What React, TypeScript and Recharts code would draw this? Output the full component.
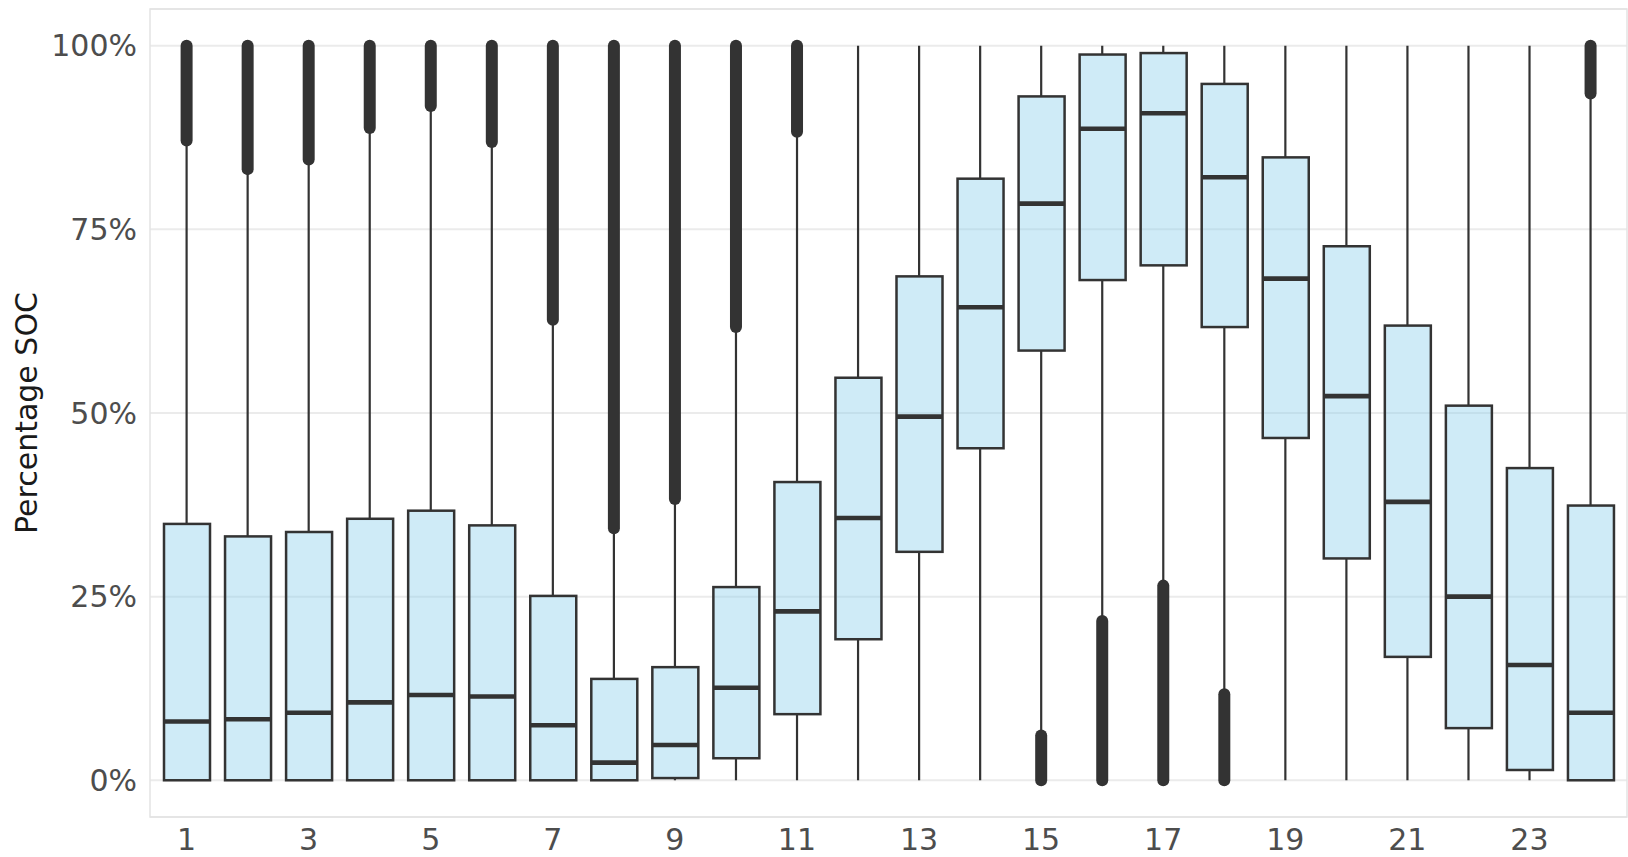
import React from 'react';
import { ComposedChart, Bar, XAxis, YAxis, CartesianGrid, usePlotArea } from 'recharts';

// hour of day, 1..24
const hours = ['1', '2', '3', '4', '5', '6', '7', '8', '9', '10', '11', '12', '13', '14', '15', '16', '17', '18', '19', '20', '21', '22', '23', '24'];

// box stats (share of SOC, 0..1)
const q1 = [0, 0, 0, 0, 0, 0, 0, 0, 0.003, 0.030, 0.090, 0.192, 0.311, 0.452, 0.585, 0.681, 0.701, 0.617, 0.466, 0.302, 0.168, 0.071, 0.014, 0];
const median = [0.080, 0.083, 0.092, 0.106, 0.116, 0.114, 0.075, 0.024, 0.048, 0.126, 0.230, 0.357, 0.495, 0.644, 0.785, 0.887, 0.908, 0.821, 0.683, 0.523, 0.379, 0.250, 0.157, 0.092];
const q3 = [0.349, 0.332, 0.338, 0.356, 0.367, 0.347, 0.251, 0.138, 0.154, 0.263, 0.406, 0.548, 0.686, 0.819, 0.931, 0.988, 0.990, 0.948, 0.848, 0.727, 0.619, 0.510, 0.425, 0.374];
const whiskerLow = [0, 0, 0, 0, 0, 0, 0, 0, 0, 0, 0, 0, 0, 0, 0.061, 0.217, 0.265, 0.117, 0, 0, 0, 0, 0, 0];
const whiskerHigh = [0.871, 0.832, 0.845, 0.888, 0.918, 0.869, 0.627, 0.343, 0.383, 0.617, 0.883, 1, 1, 1, 1, 1, 1, 1, 1, 1, 1, 1, 1, 0.935];

// outliers are so dense they merge into one bar: [from, to], null = none
const outlierLow = [0.871, 0.832, 0.845, 0.888, 0.918, 0.869, 0.627, 0.343, 0.383, 0.617, 0.883, null, null, null, 0, 0, 0, 0, null, null, null, null, null, 0.935];
const outlierHigh = [1, 1, 1, 1, 1, 1, 1, 1, 1, 1, 1, null, null, null, 0.061, 0.217, 0.265, 0.117, null, null, null, null, null, 1];

const yTicks = [0, 0.25, 0.5, 0.75, 1];

const data = hours.map((h, i) => ({
  hour: h,
  whisker: [whiskerLow[i], whiskerHigh[i]],
  box: [q1[i], q3[i]],
  med: median[i],
  out: outlierLow[i] == null ? null : [outlierLow[i], outlierHigh[i]],
}));

const INK = '#333333';
const FONT = 'DejaVu Sans, Verdana, sans-serif';

// whisker bar spans [low, high]; only draw the parts outside the box
const WhiskerShape = (props: any) => {
  const { x, y, width, height, payload } = props;
  if (y == null || isNaN(y)) return null;
  const [lo, hi] = payload.whisker;
  const [b1, b3] = payload.box;
  const toY = (v: number) => y + (height * (hi - v)) / (hi - lo);
  const cx = x + width / 2;
  return (
    <g stroke={INK} strokeWidth={2.2}>
      {hi > b3 && <line x1={cx} x2={cx} y1={y} y2={toY(b3)} />}
      {lo < b1 && <line x1={cx} x2={cx} y1={toY(b1)} y2={y + height} />}
    </g>
  );
};

const OutlierShape = (props: any) => {
  const { x, y, width, height, payload } = props;
  if (!payload.out || y == null || isNaN(y)) return null;
  const cx = x + width / 2;
  return <line x1={cx} x2={cx} y1={y} y2={y + height} stroke={INK} strokeWidth={12} strokeLinecap="round" />;
};

const BoxShape = (props: any) => {
  const { x, y, width, height, payload } = props;
  if (y == null || isNaN(y)) return null;
  const [lo, hi] = payload.box;
  const my = y + (height * (hi - payload.med)) / (hi - lo);
  return (
    <g>
      <rect x={x} y={y} width={width} height={height} fill="rgb(135,206,235)" fillOpacity={0.4} stroke={INK} strokeWidth={2.5} />
      <line x1={x} x2={x + width} y1={my} y2={my} stroke={INK} strokeWidth={4.6} />
    </g>
  );
};

const PanelFrame = () => {
  const area = usePlotArea();
  if (!area) return null;
  const cy = area.y + area.height / 2;
  return (
    <g>
      <rect x={area.x} y={area.y} width={area.width} height={area.height} fill="none" stroke="#e3e3e3" strokeWidth={1.5} />
      <text
        x={26}
        y={cy}
        transform={`rotate(-90 26 ${cy})`}
        textAnchor="middle"
        dominantBaseline="central"
        fontFamily={FONT}
        fontSize={30}
        fill="#1a1a1a"
      >
        Percentage SOC
      </text>
    </g>
  );
};

const xPad = { left: 6, right: 6 };
const tickStyle = { fill: '#4d4d4d', fontSize: 30, fontFamily: FONT };

export default function App() {
  return (
    <div style={{ position: 'absolute', left: 0, top: 0, width: 1628, height: 857, background: '#fff', overflow: 'hidden' }}>
      <ComposedChart width={1628} height={857} data={data} margin={{ top: 9, right: 1, bottom: 0, left: 8 }}>
        <CartesianGrid vertical={false} stroke="#ebebeb" strokeWidth={2} />
        <XAxis
          dataKey="hour"
          interval={1}
          padding={xPad}
          height={40}
          tickLine={false}
          axisLine={false}
          tickSize={0}
          tickMargin={12}
          tick={tickStyle}
        />
        <XAxis xAxisId="w" dataKey="hour" hide padding={xPad} />
        <XAxis xAxisId="o" dataKey="hour" hide padding={xPad} />
        <YAxis
          type="number"
          domain={[-0.05, 1.05]}
          ticks={yTicks}
          width={142}
          tickLine={false}
          axisLine={false}
          tickSize={0}
          tickMargin={13}
          tickFormatter={(v: number) => `${Math.round(v * 100)}%`}
          tick={tickStyle}
          allowDataOverflow
        />
        <Bar xAxisId="w" dataKey="whisker" shape={<WhiskerShape />} isAnimationActive={false} />
        <Bar xAxisId="o" dataKey="out" shape={<OutlierShape />} isAnimationActive={false} />
        <Bar dataKey="box" barSize={46} shape={<BoxShape />} isAnimationActive={false} />
        <PanelFrame />
      </ComposedChart>
    </div>
  );
}
